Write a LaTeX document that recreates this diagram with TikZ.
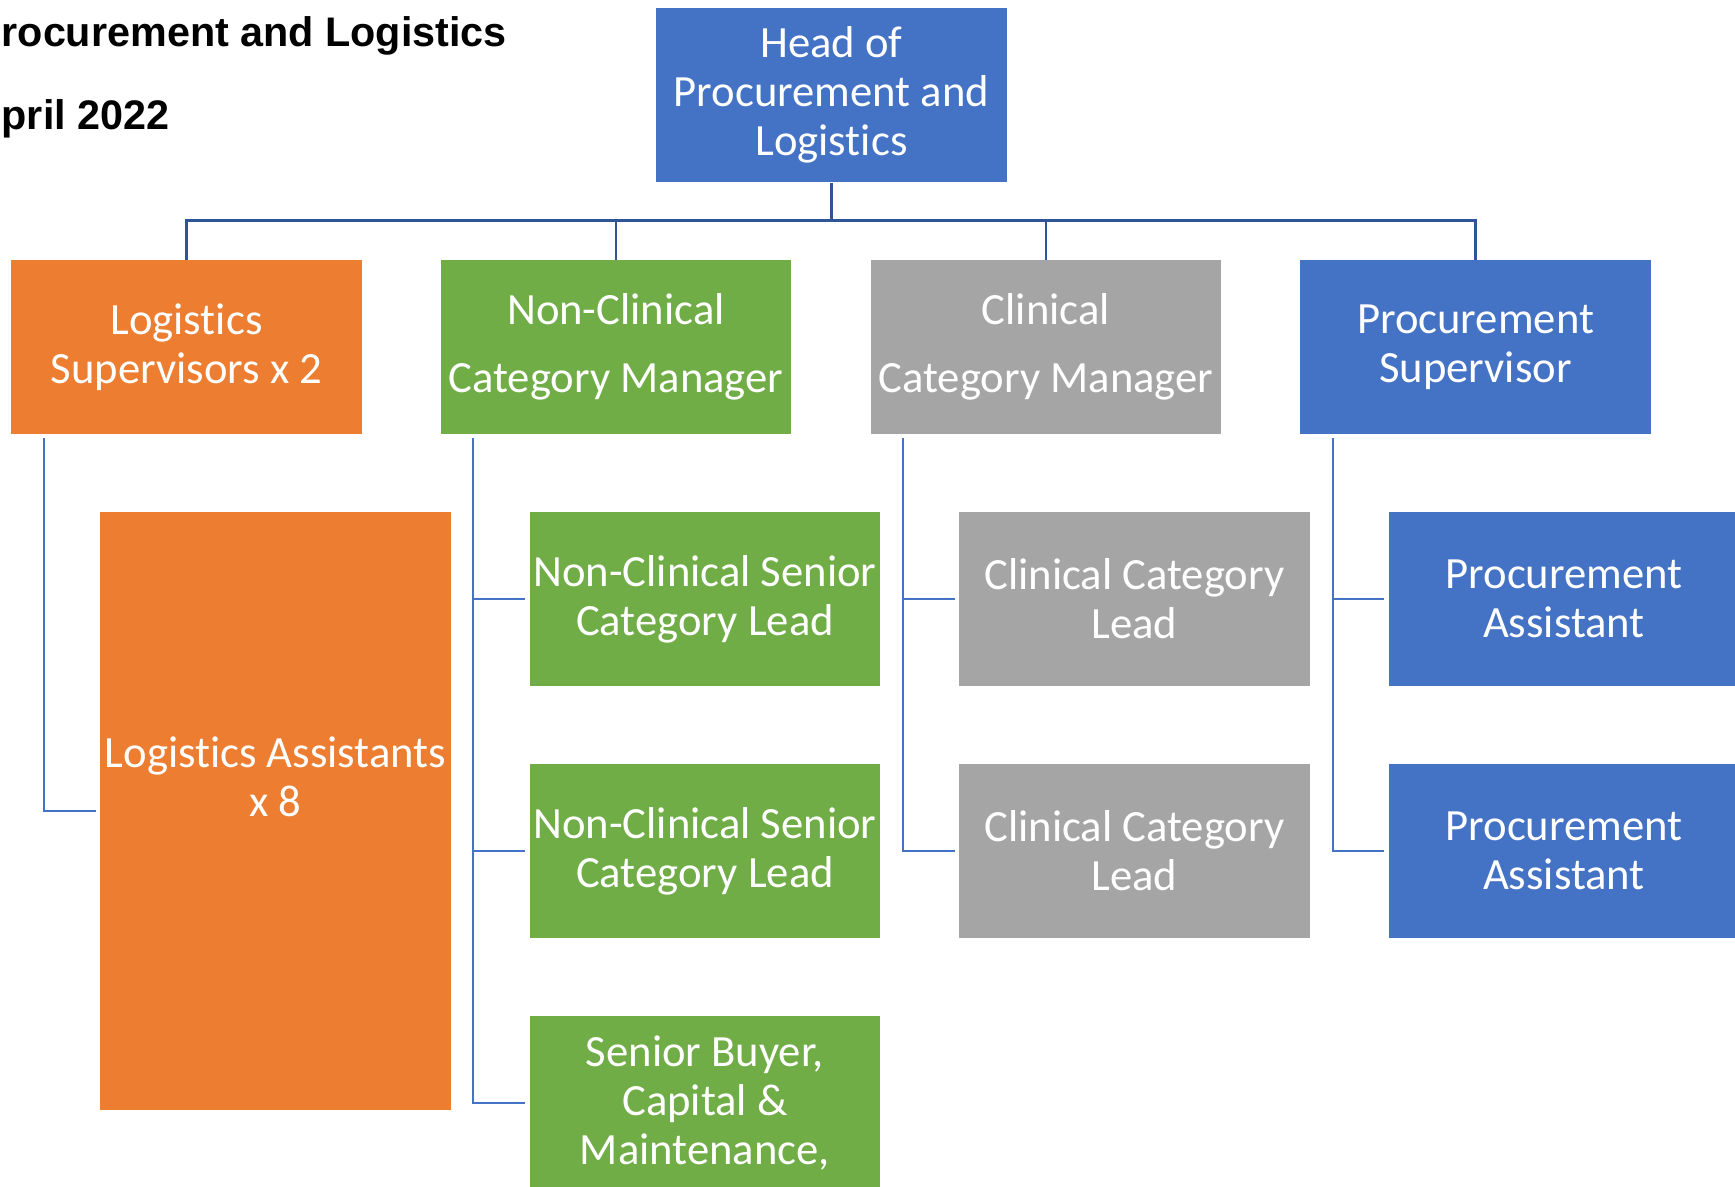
\documentclass[tikz,border=0pt]{standalone}
\usepackage{fontspec}
\setmainfont{Carlito}[Ligatures=NoCommon]
\newfontfamily\titlefont{Liberation Sans}
\usetikzlibrary{calc,positioning}

\definecolor{postblue}{HTML}{4472C4}
\definecolor{postorange}{HTML}{ED7D31}
\definecolor{postgreen}{HTML}{70AD47}
\definecolor{postgray}{HTML}{A5A5A5}
\definecolor{linkdark}{HTML}{2F5597}
\definecolor{linkblue}{HTML}{4472C4}

\tikzset{
  post/.style={rectangle,minimum width=3.5cm,minimum height=1.73cm,
               inner sep=0pt,align=center,text=white,
               font=\fontsize{12.7}{14}\selectfont},
  heading/.style={anchor=base west,inner sep=0pt,
                  font=\titlefont\bfseries\fontsize{11.75}{14}\selectfont},
  bus/.style={draw=linkdark,line width=0.85pt},
  twig/.style={draw=linkblue,line width=0.65pt,
               shorten <=0.04cm,shorten >=0.04cm},
}

\begin{document}
\begin{tikzpicture}[x=0.01cm,y=-0.01cm]
%
  \useasboundingbox (0,0) rectangle (1735,1187) ;
  \clip (0,0) rectangle (1735,1187) ;
%
  \node (ttl)  [heading] at (1,46)  {rocurement and Logistics} ;
  \node (date) [heading] at (1,129) {pril 2022} ;
%
  \node (head) [post,fill=postblue,minimum height=1.74cm] at (831.5,95)
    {Head of\\Procurement and\\Logistics} ;
%
  \node (lsup)  [post,fill=postorange] at (186.5,347)
    {Logistics\\Supervisors x 2} ;
  \node (ncman) [post,fill=postgreen]  at (616,347)
    {Non-Clinical\\[5.5pt]Category Manager} ;
  \node (clman) [post,fill=postgray]   at (1046,347)
    {Clinical\\[5.5pt]Category Manager} ;
  \node (psup)  [post,fill=postblue]   at (1475.5,347)
    {Procurement\\Supervisor} ;
%
  \node (lasst)    [post,fill=postorange,minimum height=5.98cm] at (275.5,811) {} ;
  \node (lassttxt) [post] at (275.5,777) {Logistics Assistants\\x 8} ;
%
  \node (nclead1) [post,fill=postgreen] at (705,599)
    {Non-Clinical Senior\\Category Lead} ;
  \node (nclead2) [post,fill=postgreen] at (705,851)
    {Non-Clinical Senior\\Category Lead} ;
  \node (buyer)   [post,fill=postgreen] at (705,1103)
    {Senior Buyer,\\Capital \&\\Maintenance,} ;
%
  \node (cllead1) [post,fill=postgray] at (1134.5,599) {Clinical Category\\Lead} ;
  \node (cllead2) [post,fill=postgray] at (1134.5,851) {Clinical Category\\Lead} ;
%
  \node (passt1) [post,fill=postblue] at (1564,599) {Procurement\\Assistant} ;
  \node (passt2) [post,fill=postblue] at (1564,851) {Procurement\\Assistant} ;
%
  \coordinate (hub) at (831.5,220) ;
  \draw [bus] (head.south) -- (hub) ;
  \draw [bus] (lsup.north) |- (hub) -| (psup.north) ;
  \draw [bus] (ncman.north) -- (ncman.north |- hub) ;
  \draw [bus] (clman.north) -- (clman.north |- hub) ;
%
  \coordinate (lsupfoot)  at ([xshift=0.33cm]lsup.south west) ;
  \coordinate (ncmanfoot) at ([xshift=0.33cm]ncman.south west) ;
  \coordinate (clmanfoot) at ([xshift=0.33cm]clman.south west) ;
  \coordinate (psupfoot)  at ([xshift=0.33cm]psup.south west) ;
%
  \draw [twig] (lsupfoot) |- (lasst.west) ;
%
  \draw [twig] (ncmanfoot) |- (nclead1.west) ;
  \draw [twig] (ncmanfoot) |- (nclead2.west) ;
  \draw [twig] (ncmanfoot) |- (buyer.west) ;
%
  \draw [twig] (clmanfoot) |- (cllead1.west) ;
  \draw [twig] (clmanfoot) |- (cllead2.west) ;
%
  \draw [twig] (psupfoot) |- (passt1.west) ;
  \draw [twig] (psupfoot) |- (passt2.west) ;
%
\end{tikzpicture}
\end{document}
